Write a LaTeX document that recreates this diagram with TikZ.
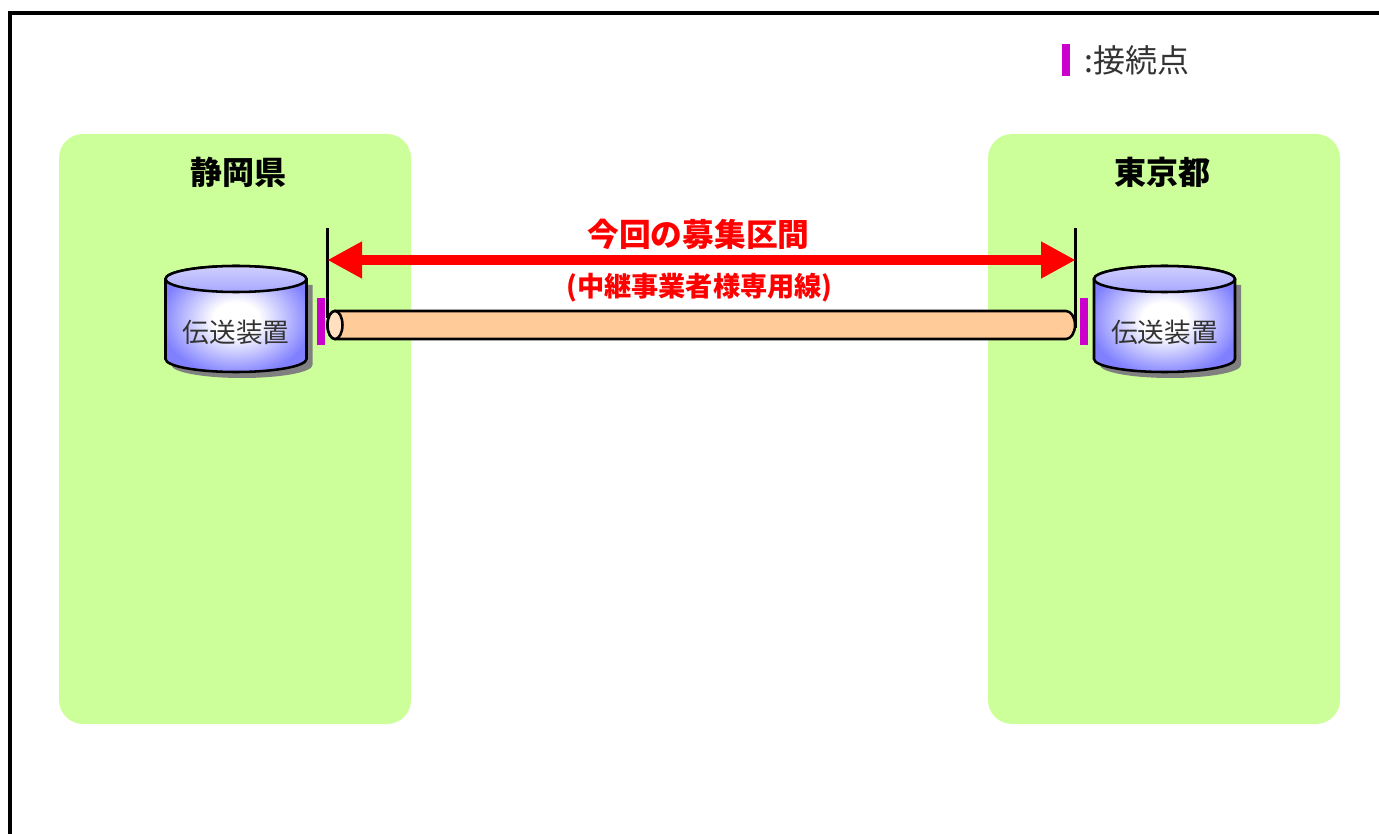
\documentclass[tikz,border=0pt]{standalone}
\usepackage{fontspec}
\setmainfont{Noto Sans CJK JP}
\usetikzlibrary{arrows.meta}
\definecolor{regiongreen}{HTML}{CCFF99}
\definecolor{barmag}{HTML}{CC00CC}
\definecolor{pipefill}{HTML}{FFCC99}
\definecolor{pipeend}{HTML}{FFE0C0}
\definecolor{cylblue}{HTML}{8080FF}
\definecolor{cyltop}{HTML}{A8A8FF}
\definecolor{shadowgray}{HTML}{808080}
\pgfdeclareradialshading{cylshade}{\pgfpoint{0bp}{0bp}}{color(0bp)=(white); color(8bp)=(white); color(27bp)=(cylblue); color(50bp)=(cylblue)}
\tikzset{
  x=0.75pt,y=-0.75pt,
  region/.style={fill=regiongreen,draw=none,rounded corners=18pt},
  title/.style={font=\fontsize{24pt}{26pt}\selectfont\bfseries,inner sep=0pt,anchor=center},
  devlabel/.style={font=\fontsize{20pt}{22pt}\selectfont,text=black!80,inner sep=0pt,anchor=center},
  bar/.style={fill=barmag,draw=none},
  outline/.style={draw=black,line width=1.9pt},
  redspan/.style={draw=red,line width=7.6pt,{Triangle[length=26pt,width=26pt]}-{Triangle[length=26pt,width=26pt]},shorten <=-0.5pt,shorten >=-0.5pt},
  redtext/.style={text=red,inner sep=0pt,anchor=center},
}
\newcommand{\cylinder}[2]{%
  \begin{scope}[shift={(#1,0)}]
    \fill[shadowgray] (6,285) -- (147,285) -- (147,365) arc[x radius=70.5,y radius=13,start angle=0,end angle=180] -- cycle;
    \path[outline,shading=cylshade]
      (0,279) -- (0,359) arc[x radius=70.5,y radius=13,start angle=180,end angle=0] -- (141,279) arc[x radius=70.5,y radius=13,start angle=0,end angle=-180] -- cycle;
    \path[outline,top color=cyltop!55!white,bottom color=cyltop] (70.5,279) ellipse[x radius=70.5,y radius=13];
    \node[devlabel] (#2) at (70.5,332) {伝送装置};
  \end{scope}}
\begin{document}
\begin{tikzpicture}
\useasboundingbox (0,0) rectangle (1379,834);
% frame
\coordinate (fa) at (10,834);
\coordinate (fb) at (10,13);
\coordinate (fc) at (1379,13);
\draw[line width=3pt,line join=miter] (fa) -- (fb) -- (fc);
% legend
\fill[bar] (1062,44) rectangle (1070,76);
\node[font=\fontsize{24pt}{26pt}\selectfont,text=black!80,inner sep=0pt,anchor=west] (legend) at (1084,60) {:接続点};
% regions
\path[region] (59,134) rectangle (411,724);
\path[region] (988,134) rectangle (1340,724);
\node[title] (shizuoka) at (238,172) {静岡県};
\node[title] (tokyo) at (1162.5,172) {東京都};
% devices
\cylinder{165.5}{devL}
\cylinder{1094}{devR}
% connection points
\fill[bar] (317,298) rectangle (324.5,345);
\fill[bar] (1080,298) rectangle (1087.5,345);
% limit lines
\coordinate (ltop) at (327.5,228);
\coordinate (lbot) at (327.5,318);
\coordinate (rtop) at (1075.5,228);
\coordinate (rbot) at (1075.5,328);
\draw[line width=2.5pt] (ltop) -- (lbot);
\draw[line width=2.5pt] (rtop) -- (rbot);
% pipe
\path[outline,fill=pipefill] (335,311) -- (1066,311) arc[x radius=9,y radius=14,start angle=-90,end angle=90] -- (335,339) arc[x radius=7.5,y radius=14,start angle=90,end angle=270] -- cycle;
\path[outline,fill=pipeend] (335,325) ellipse[x radius=7.5,y radius=14];
% red arrow
\coordinate (al) at (328,260);
\coordinate (ar) at (1075,260);
\draw[redspan] (al) -- (ar);
\node[redtext,font=\fontsize{23.8pt}{26pt}\selectfont\bfseries] (span) at (698.5,234) {今回の募集区間};
\node[redtext,font=\fontsize{20.4pt}{22pt}\selectfont\bfseries] (sub) at (699.5,288) {(中継事業者様専用線)};
\end{tikzpicture}
\end{document}
